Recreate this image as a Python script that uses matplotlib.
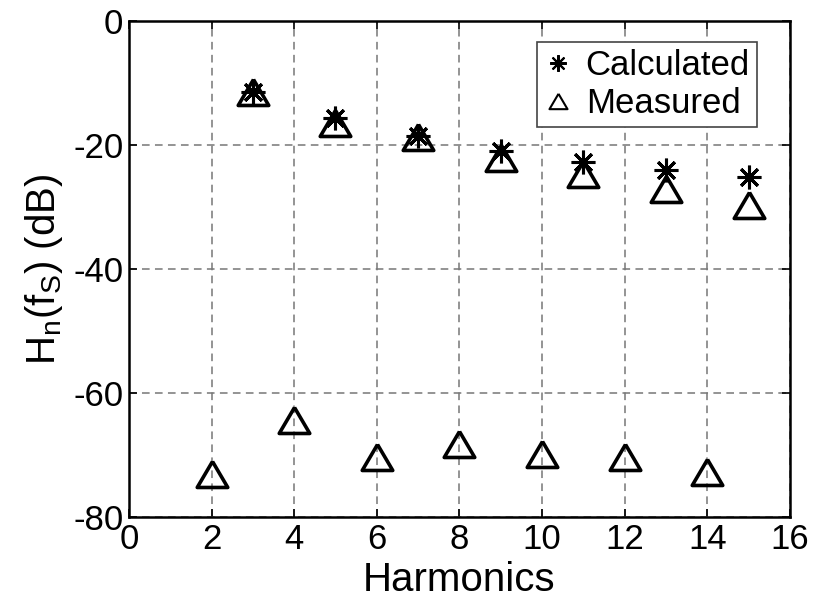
import matplotlib.pyplot as plt
from matplotlib.lines import Line2D

plt.rcParams['font.family'] = ['Liberation Sans', 'DejaVu Sans']
plt.rcParams['mathtext.default'] = 'regular'
plt.rcParams['axes.unicode_minus'] = False

# harmonic number vs level in dB
harm_calc = [3, 5, 7, 9, 11, 13, 15]
calc_db = [-11.4, -15.7, -18.5, -20.9, -22.7, -24.0, -25.2]

harm_meas = [2, 3, 4, 5, 6, 7, 8, 9, 10, 11, 12, 13, 14, 15]
meas_db = [-73.0, -11.5, -64.3, -16.5, -70.3, -18.7, -68.2, -22.1,
           -69.8, -24.7, -70.3, -27.1, -72.8, -29.7]

x_ticks = [0, 2, 4, 6, 8, 10, 12, 14, 16]
y_ticks = [-80, -60, -40, -20, 0]

# wide open triangle and 8-spoke asterisk
tri = [(0, 0.85), (-1, -0.85), (1, -0.85), (0, 0.85)]
star = (8, 2, 0)

fig = plt.figure(figsize=(8.16, 6.09), dpi=100)
ax = fig.add_axes([0.158, 0.151, 0.810, 0.8145])

ax.plot(harm_calc, calc_db, linestyle='none', marker=star,
        markersize=17, markeredgewidth=2.2, color='black', zorder=4)
ax.plot(harm_meas, meas_db, linestyle='none', marker=tri,
        markersize=22, markeredgewidth=2.6, markerfacecolor='none',
        markeredgecolor='black', zorder=3)

ax.set_xlim(0, 16)
ax.set_ylim(-80, 0)
ax.set_xticks(x_ticks)
ax.set_yticks(y_ticks)
ax.tick_params(direction='in', length=6, width=1.2, labelsize=25,
               top=True, right=True, pad=4)
ax.grid(True, color='#777777', linestyle=(0, (5, 3.5)), linewidth=1.1)
ax.set_axisbelow(True)
for sp in ax.spines.values():
    sp.set_linewidth(1.8)

ax.set_xlabel('Harmonics', fontsize=29, labelpad=4)
ax.set_ylabel('H$_n$(f$_S$) (dB)', fontsize=29, labelpad=6)

# legend uses thinner, smaller symbols
handles = [
    Line2D([], [], linestyle='none', marker=star, markersize=12,
           markeredgewidth=1.5, color='black', label='Calculated'),
    Line2D([], [], linestyle='none', marker=tri, markersize=13,
           markeredgewidth=1.5, markerfacecolor='none',
           markeredgecolor='black', label='Measured'),
]
leg = ax.legend(handles=handles, loc='upper right', bbox_to_anchor=(0.95, 0.958),
                borderaxespad=0, fontsize=25, handlelength=0.8, handletextpad=0.4,
                borderpad=0.2, labelspacing=0.15, fancybox=False, framealpha=1)
leg.get_frame().set_edgecolor('#444444')
leg.get_frame().set_linewidth(1.2)

fig.savefig('out.png', dpi=100)
